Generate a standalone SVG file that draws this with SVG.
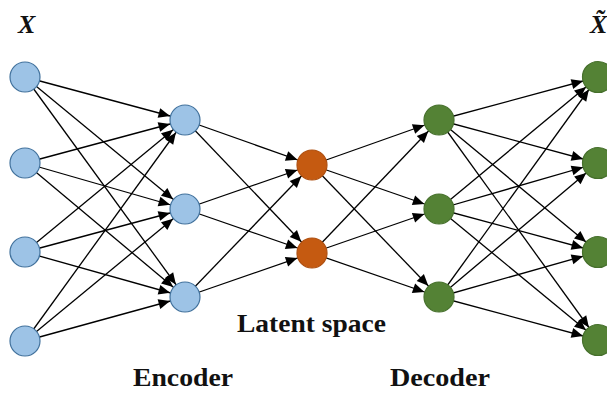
<svg xmlns="http://www.w3.org/2000/svg" width="607" height="393" viewBox="0 0 607 393">
<style>
.c{stroke:#000;stroke-width:1.3;fill:none;marker-end:url(#ah)}
.b{fill:#9DC3E6;stroke:#41719C;stroke-width:1.2}
.o{fill:#C55A11;stroke:#AE4F10;stroke-width:1.2}
.g{fill:#548235;stroke:#46702C;stroke-width:1.2}
.t{font-family:"Liberation Serif",serif;font-weight:bold;font-size:26px;fill:#111}
.v{font-family:"Liberation Serif",serif;font-weight:bold;font-style:italic;font-size:26px;fill:#111}
</style>
<defs>
<marker id="ah" viewBox="-30 -7 32 14" refX="0" refY="0" markerWidth="32" markerHeight="14" markerUnits="userSpaceOnUse" orient="auto">
<path d="M-27,-5 L-15.5,0 L-27,5 z" fill="#000"/>
</marker>
</defs>
<rect width="607" height="393" fill="#fff"/>
<g id="connectors">
<line class="c" x1="25" y1="77" x2="185" y2="120"/>
<line class="c" x1="25" y1="77" x2="185" y2="209"/>
<line class="c" x1="25" y1="77" x2="185" y2="297"/>
<line class="c" x1="25" y1="163" x2="185" y2="120"/>
<line class="c" x1="25" y1="163" x2="185" y2="209"/>
<line class="c" x1="25" y1="163" x2="185" y2="297"/>
<line class="c" x1="25" y1="252" x2="185" y2="120"/>
<line class="c" x1="25" y1="252" x2="185" y2="209"/>
<line class="c" x1="25" y1="252" x2="185" y2="297"/>
<line class="c" x1="25" y1="341" x2="185" y2="120"/>
<line class="c" x1="25" y1="341" x2="185" y2="209"/>
<line class="c" x1="25" y1="341" x2="185" y2="297"/>
<line class="c" x1="185" y1="120" x2="312" y2="165"/>
<line class="c" x1="185" y1="120" x2="312" y2="253"/>
<line class="c" x1="185" y1="209" x2="312" y2="165"/>
<line class="c" x1="185" y1="209" x2="312" y2="253"/>
<line class="c" x1="185" y1="297" x2="312" y2="165"/>
<line class="c" x1="185" y1="297" x2="312" y2="253"/>
<line class="c" x1="312" y1="165" x2="439" y2="120"/>
<line class="c" x1="312" y1="165" x2="439" y2="209"/>
<line class="c" x1="312" y1="165" x2="439" y2="297"/>
<line class="c" x1="312" y1="253" x2="439" y2="120"/>
<line class="c" x1="312" y1="253" x2="439" y2="209"/>
<line class="c" x1="312" y1="253" x2="439" y2="297"/>
<line class="c" x1="439" y1="120" x2="598" y2="77"/>
<line class="c" x1="439" y1="120" x2="598" y2="163"/>
<line class="c" x1="439" y1="120" x2="598" y2="252"/>
<line class="c" x1="439" y1="120" x2="598" y2="340"/>
<line class="c" x1="439" y1="209" x2="598" y2="77"/>
<line class="c" x1="439" y1="209" x2="598" y2="163"/>
<line class="c" x1="439" y1="209" x2="598" y2="252"/>
<line class="c" x1="439" y1="209" x2="598" y2="340"/>
<line class="c" x1="439" y1="297" x2="598" y2="77"/>
<line class="c" x1="439" y1="297" x2="598" y2="163"/>
<line class="c" x1="439" y1="297" x2="598" y2="252"/>
<line class="c" x1="439" y1="297" x2="598" y2="340"/>
</g>
<g id="in1"><circle class="b" cx="25" cy="77" r="15"/></g>
<g id="in2"><circle class="b" cx="25" cy="163" r="15"/></g>
<g id="in3"><circle class="b" cx="25" cy="252" r="15"/></g>
<g id="in4"><circle class="b" cx="25" cy="341" r="15"/></g>
<g id="enc1"><circle class="b" cx="185" cy="120" r="15"/></g>
<g id="enc2"><circle class="b" cx="185" cy="209" r="15"/></g>
<g id="enc3"><circle class="b" cx="185" cy="297" r="15"/></g>
<g id="lat1"><circle class="o" cx="312" cy="165" r="15"/></g>
<g id="lat2"><circle class="o" cx="312" cy="253" r="15"/></g>
<g id="dec1"><circle class="g" cx="439" cy="120" r="15"/></g>
<g id="dec2"><circle class="g" cx="439" cy="209" r="15"/></g>
<g id="dec3"><circle class="g" cx="439" cy="297" r="15"/></g>
<g id="out1"><circle class="g" cx="598" cy="77" r="15.5"/></g>
<g id="out2"><circle class="g" cx="598" cy="163" r="15.5"/></g>
<g id="out3"><circle class="g" cx="598" cy="252" r="15.5"/></g>
<g id="out4"><circle class="g" cx="598" cy="340" r="15.5"/></g>
<g id="labels">
<text class="v" x="18" y="33">X</text>
<text class="v" x="590" y="33" font-size="22">X̃</text>
<text class="t" x="237" y="332" textLength="149" lengthAdjust="spacingAndGlyphs">Latent space</text>
<text class="t" x="133" y="386" textLength="100" lengthAdjust="spacingAndGlyphs">Encoder</text>
<text class="t" x="390" y="386" textLength="100" lengthAdjust="spacingAndGlyphs">Decoder</text>
</g>
</svg>
